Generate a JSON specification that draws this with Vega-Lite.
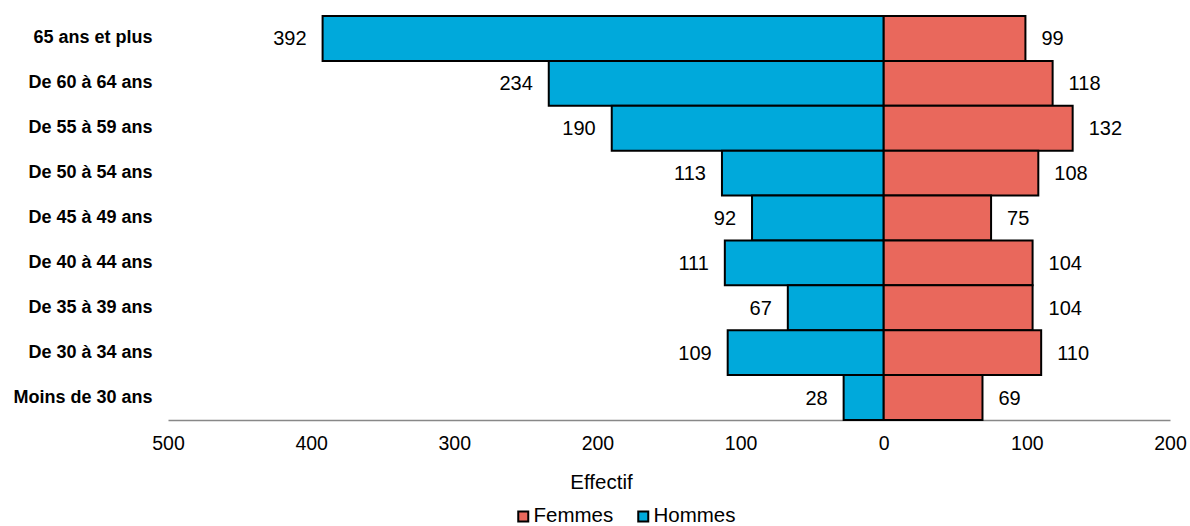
{
  "$schema": "https://vega.github.io/schema/vega-lite/v6.json",
  "width": 1002,
  "height": 404,
  "autosize": "none",
  "padding": {"left": 168, "top": 16, "right": 20, "bottom": 106},
  "background": "white",
  "config": {
    "font": "Liberation Sans",
    "view": {"stroke": null}
  },
  "data": {
    "values": [
      {"age": "65 ans et plus", "sexe": "Hommes", "effectif": -392},
      {"age": "De 60 à 64 ans", "sexe": "Hommes", "effectif": -234},
      {"age": "De 55 à 59 ans", "sexe": "Hommes", "effectif": -190},
      {"age": "De 50 à 54 ans", "sexe": "Hommes", "effectif": -113},
      {"age": "De 45 à 49 ans", "sexe": "Hommes", "effectif": -92},
      {"age": "De 40 à 44 ans", "sexe": "Hommes", "effectif": -111},
      {"age": "De 35 à 39 ans", "sexe": "Hommes", "effectif": -67},
      {"age": "De 30 à 34 ans", "sexe": "Hommes", "effectif": -109},
      {"age": "Moins de 30 ans", "sexe": "Hommes", "effectif": -28},
      {"age": "65 ans et plus", "sexe": "Femmes", "effectif": 99},
      {"age": "De 60 à 64 ans", "sexe": "Femmes", "effectif": 118},
      {"age": "De 55 à 59 ans", "sexe": "Femmes", "effectif": 132},
      {"age": "De 50 à 54 ans", "sexe": "Femmes", "effectif": 108},
      {"age": "De 45 à 49 ans", "sexe": "Femmes", "effectif": 75},
      {"age": "De 40 à 44 ans", "sexe": "Femmes", "effectif": 104},
      {"age": "De 35 à 39 ans", "sexe": "Femmes", "effectif": 104},
      {"age": "De 30 à 34 ans", "sexe": "Femmes", "effectif": 110},
      {"age": "Moins de 30 ans", "sexe": "Femmes", "effectif": 69}
    ]
  },
  "transform": [{"calculate": "abs(datum.effectif)", "as": "libelle"}],
  "encoding": {
    "y": {
      "field": "age",
      "type": "nominal",
      "sort": ["65 ans et plus", "De 60 à 64 ans", "De 55 à 59 ans", "De 50 à 54 ans", "De 45 à 49 ans", "De 40 à 44 ans", "De 35 à 39 ans", "De 30 à 34 ans", "Moins de 30 ans"],
      "scale": {"paddingInner": 0, "paddingOuter": 0},
      "axis": {
        "title": null,
        "ticks": false,
        "domain": false,
        "labelFontSize": 18,
        "labelFontWeight": "bold",
        "labelColor": "black",
        "labelPadding": 16
      }
    },
    "x": {
      "field": "effectif",
      "type": "quantitative",
      "scale": {"domain": [-500, 200], "nice": false, "zero": false},
      "axis": {
        "title": "Effectif",
        "values": [-500, -400, -300, -200, -100, 0, 100, 200],
        "labelExpr": "format(abs(datum.value), 'd')",
        "grid": false,
        "ticks": false,
        "domainColor": "#888888",
        "domainWidth": 1.5,
        "labelFontSize": 19.5,
        "labelColor": "black",
        "labelPadding": 14,
        "labelFlush": false,
        "titleFontSize": 20.5,
        "titleFontWeight": "normal",
        "titleColor": "black",
        "titleX": 433,
        "titleY": 68,
        "titleBaseline": "alphabetic"
      }
    }
  },
  "layer": [
    {
      "mark": {"type": "bar", "stroke": "black", "strokeWidth": 2},
      "encoding": {
        "color": {
          "field": "sexe",
          "type": "nominal",
          "scale": {"domain": ["Femmes", "Hommes"], "range": ["#E9685C", "#00A9DB"]},
          "legend": {
            "title": null,
            "orient": "none",
            "direction": "horizontal",
            "legendX": 345,
            "legendY": 490,
            "padding": 0,
            "symbolType": "square",
            "symbolSize": 100,
            "symbolStrokeColor": "black",
            "symbolStrokeWidth": 2,
            "symbolOpacity": 1,
            "labelFontSize": 20.5,
            "labelColor": "black",
            "labelOffset": 0,
            "columnPadding": 19
          }
        }
      }
    },
    {
      "transform": [{"filter": "datum.sexe === 'Hommes'"}],
      "mark": {"type": "text", "align": "right", "baseline": "middle", "dx": -16, "dy": 1, "fontSize": 20, "color": "black"},
      "encoding": {"text": {"field": "libelle", "type": "quantitative"}}
    },
    {
      "transform": [{"filter": "datum.sexe === 'Femmes'"}],
      "mark": {"type": "text", "align": "left", "baseline": "middle", "dx": 16, "dy": 1, "fontSize": 20, "color": "black"},
      "encoding": {"text": {"field": "libelle", "type": "quantitative"}}
    }
  ]
}
